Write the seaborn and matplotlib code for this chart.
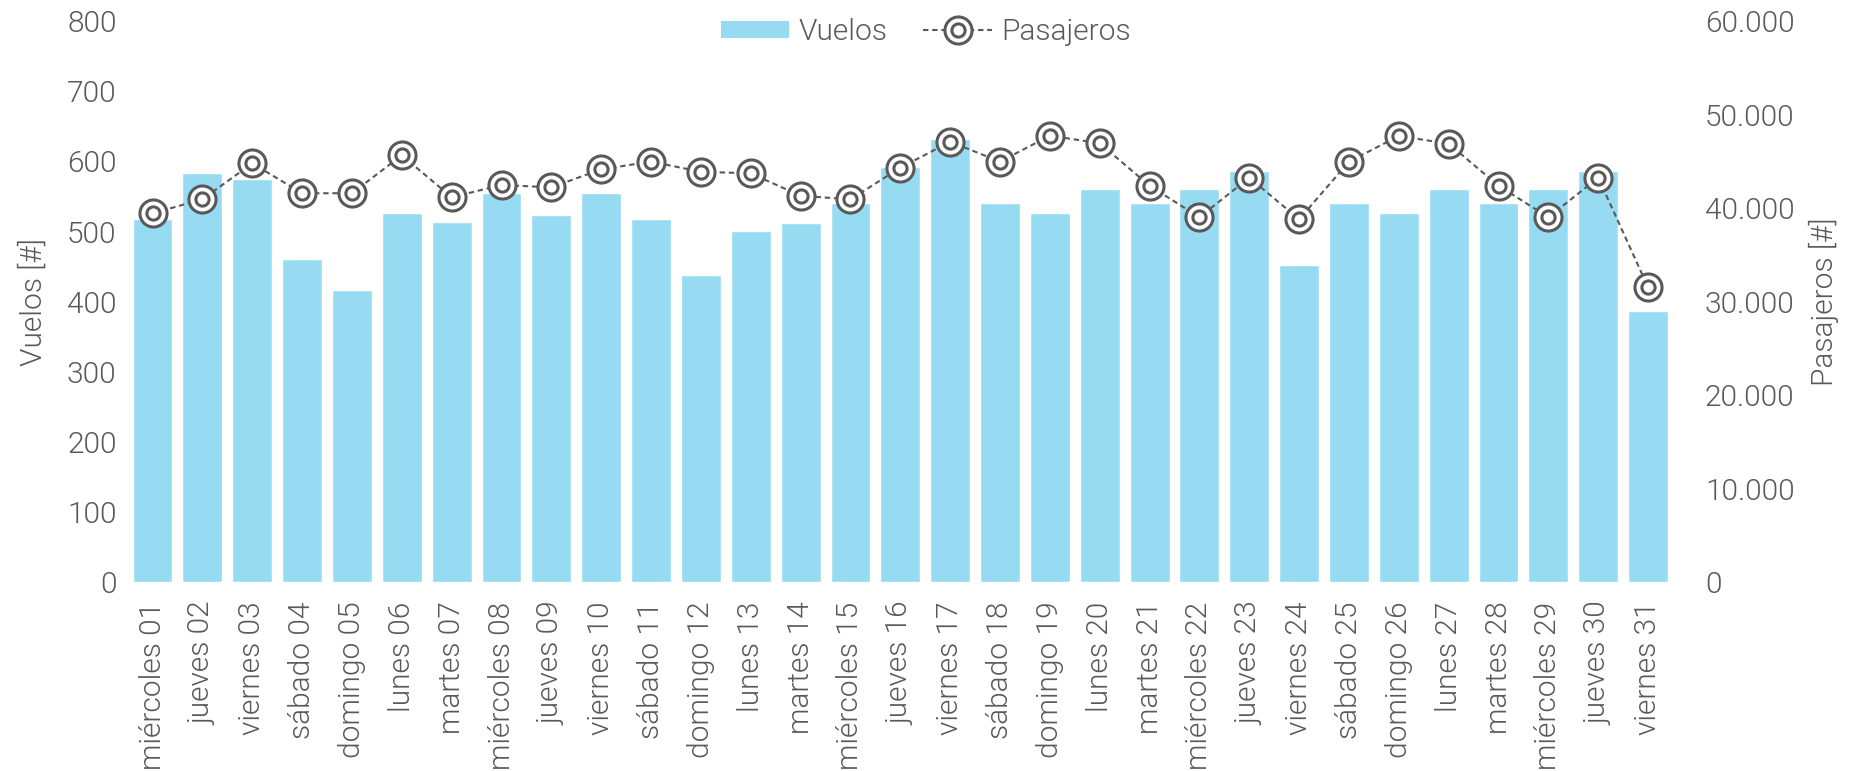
import numpy as np
import matplotlib
matplotlib.use("Agg")
import matplotlib.pyplot as plt
from matplotlib.lines import Line2D
from matplotlib.patches import Patch
from matplotlib.legend_handler import HandlerTuple
from matplotlib.ticker import FuncFormatter, MultipleLocator
import seaborn as sns

# Daily flights and passengers for the month
dias = [
    "miércoles 01", "jueves 02", "viernes 03", "sábado 04", "domingo 05",
    "lunes 06", "martes 07", "miércoles 08", "jueves 09", "viernes 10",
    "sábado 11", "domingo 12", "lunes 13", "martes 14", "miércoles 15",
    "jueves 16", "viernes 17", "sábado 18", "domingo 19", "lunes 20",
    "martes 21", "miércoles 22", "jueves 23", "viernes 24", "sábado 25",
    "domingo 26", "lunes 27", "martes 28", "miércoles 29", "jueves 30",
    "viernes 31",
]
vuelos = [518, 584, 575, 461, 416, 527, 513, 555, 524, 555,
          518, 438, 501, 512, 541, 592, 632, 541, 527, 561,
          541, 561, 587, 453, 541, 527, 561, 541, 561, 587, 387]
pasajeros = [39450, 40950, 44800, 41600, 41600, 45660, 41170, 42480, 42230, 44160,
             44980, 43900, 43730, 41330, 40950, 44330, 47110, 44980, 47760, 46950,
             42400, 39030, 43270, 38810, 44980, 47730, 46900, 42400, 39030, 43270, 31530]

BAR = "#97DBF3"
GRIS = "#595959"
FS = 21.5
W = 300  # Roboto Light
MS_OUT, MS_IN, MEW = 19.5, 9.5, 2.2

sns.set_theme(style="white")
plt.rcParams["font.family"] = ["Roboto", "DejaVu Sans"]
plt.rcParams["font.weight"] = W
plt.rcParams["text.color"] = GRIS
plt.rcParams["axes.labelcolor"] = GRIS
plt.rcParams["xtick.color"] = GRIS
plt.rcParams["ytick.color"] = GRIS

fig = plt.figure(figsize=(18.55, 7.71), dpi=100)
ax = fig.add_axes([0.0688, 0.2451, 0.8331, 0.7273])

sns.barplot(x=dias, y=vuelos, color=BAR, saturation=1, width=0.8, ax=ax)
ax.set_xlim(-0.5, len(dias) - 0.5)
ax.set_ylim(0, 800)
ax.yaxis.set_major_locator(MultipleLocator(100))
ax.set_ylabel("Vuelos [#]", fontsize=FS, fontweight=W, labelpad=14)
ax.set_xlabel("")
ax.tick_params(axis="x", labelrotation=90, labelsize=FS, length=0, pad=14)
ax.tick_params(axis="y", labelsize=FS, length=0, pad=8)
for lab in ax.get_xticklabels() + ax.get_yticklabels():
    lab.set_fontweight(W)

ax2 = ax.twinx()
pos = np.arange(len(dias))
sns.lineplot(x=pos, y=pasajeros, ax=ax2, color=GRIS, linewidth=1.5,
             linestyle=(0, (2.6, 1.8)), marker="o", markersize=MS_OUT,
             markerfacecolor="white", markeredgecolor=GRIS, markeredgewidth=MEW)
ax2.plot(pos, pasajeros, linestyle="none", marker="o", markersize=MS_IN,
         markerfacecolor="white", markeredgecolor=GRIS, markeredgewidth=MEW)
ax2.set_ylim(0, 60000)
ax2.yaxis.set_major_locator(MultipleLocator(10000))
ax2.yaxis.set_major_formatter(FuncFormatter(lambda v, p: f"{int(v):,}".replace(",", ".")))
ax2.set_ylabel("Pasajeros [#]", fontsize=FS, fontweight=W, labelpad=10)
ax2.tick_params(axis="y", labelsize=FS, length=0, pad=23)
for lab in ax2.get_yticklabels():
    lab.set_fontweight(W)

for a in (ax, ax2):
    for s in a.spines.values():
        s.set_visible(False)
    a.grid(False)

h_bar = Patch(facecolor=BAR, edgecolor="none")
h_out = Line2D([], [], color=GRIS, linewidth=1.5, linestyle=(0, (2.6, 1.8)),
               marker="o", markersize=MS_OUT, markerfacecolor="white",
               markeredgecolor=GRIS, markeredgewidth=MEW)
h_in = Line2D([], [], linestyle="none", marker="o", markersize=MS_IN,
              markerfacecolor="white", markeredgecolor=GRIS, markeredgewidth=MEW)
fig.legend([h_bar, (h_out, h_in)], ["Vuelos", "Pasajeros"],
           handler_map={tuple: HandlerTuple(ndivide=1)},
           loc="center", bbox_to_anchor=(0.499, 1 - 32 / 771), ncol=2,
           frameon=False, prop={"size": FS, "weight": W},
           handlelength=2.3, handleheight=0.5, handletextpad=0.3,
           columnspacing=1.2)

fig.savefig("out.png", dpi=100)
